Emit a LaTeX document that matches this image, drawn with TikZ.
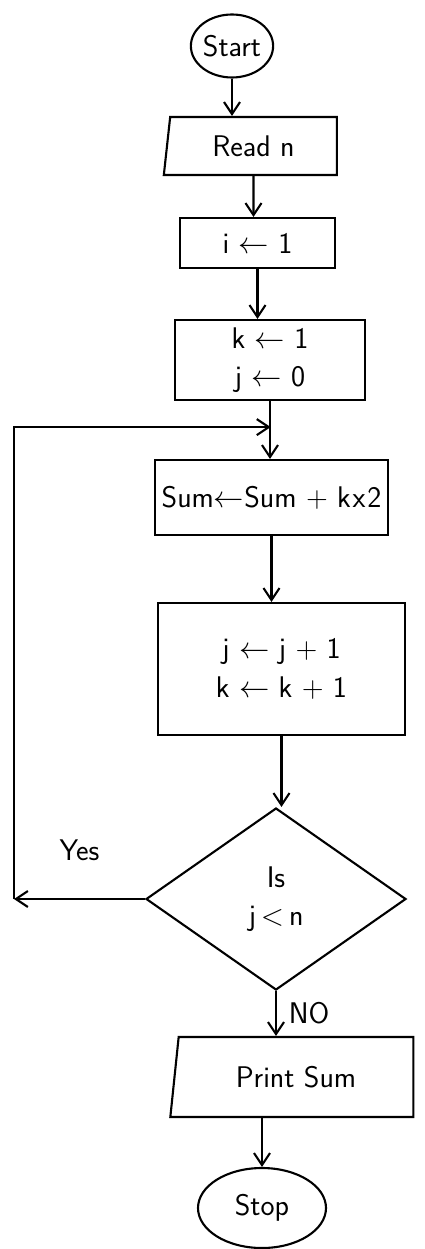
\documentclass[tikz,border=0pt]{standalone}
\usepackage{amssymb, amsmath}
\usetikzlibrary{positioning, arrows.meta, calc, shapes.geometric}

\begin{document}
\begin{tikzpicture}[
  >={Straight Barb[length=2.4mm, width=3.2mm]},
  every node/.style={font=\sffamily\fontsize{17}{22}\selectfont},
  line width=1.2pt,
  term/.style  = {ellipse, draw, inner sep=0pt},
  io/.style    = {trapezium, draw, trapezium stretches body, align=center},
  box/.style   = {rectangle, draw, align=center},
  test/.style  = {diamond, draw, align=center, inner sep=0pt},
  arr/.style   = {->},
  lbl/.style   = {inner sep=1pt},
]
  \useasboundingbox (0,0) rectangle (8.48,-24.98);
  \node[term, minimum width=1.32cm, minimum height=1.26cm] (start) at (4.64,-0.92) {Start};
  \node[io, trapezium left angle=79, trapezium right angle=90,
        minimum width=3.46cm, minimum height=1.16cm] (read) at (5.07,-2.92) {Read n};
  \node[box, minimum width=3.1cm, minimum height=1.0cm] (init) at (5.15,-4.86) {i $\leftarrow$ 1};
  \node[box, minimum width=3.8cm, minimum height=1.6cm] (setk) at (5.4,-7.2) {k $\leftarrow$ 1\\j $\leftarrow$ 0};
  \node[box, minimum width=4.66cm, minimum height=1.5cm] (sum) at (5.43,-9.95) {Sum$\leftarrow$Sum + k\kern1pt x\kern1pt 2};
  \node[box, minimum width=4.94cm, minimum height=2.64cm] (step) at (5.63,-13.38) {j $\leftarrow$ j + 1\\k $\leftarrow$ k + 1};
  \node[test, minimum width=5.2cm, minimum height=3.64cm] (cond) at (5.52,-17.98) {Is\\j\,$<$\,n};
  \node[io, trapezium left angle=76, trapezium right angle=90,
        minimum width=4.86cm, minimum height=1.6cm] (print) at (5.92,-21.54) {Print Sum};
  \node[term, minimum width=2.56cm, minimum height=1.6cm] (stop) at (5.24,-24.16) {Stop};

  \coordinate (join) at ($(setk.south)!0.45!(sum.north)$);
  \coordinate (back) at (0.28,-18.1);

  \foreach \a/\b in {start/read,read/init,init/setk,sum/step,step/cond}
    \draw[arr] (\a) -- (\a |- \b.north);
  \draw[arr] (setk) -- (setk |- sum.north);
  \draw[arr] (cond.south) -- (cond.south |- print.north) node[lbl, pos=0.5, right=0.2cm]{NO};
  \draw[arr] (stop |- print.south) -- (stop);

  % loop back for the yes branch
  \draw[arr] (cond.west) -- (cond.west -| back) node[lbl, midway, above=0.7cm]{Yes};
  \draw[arr] (cond.west -| back) |- (join);
\end{tikzpicture}
\end{document}
